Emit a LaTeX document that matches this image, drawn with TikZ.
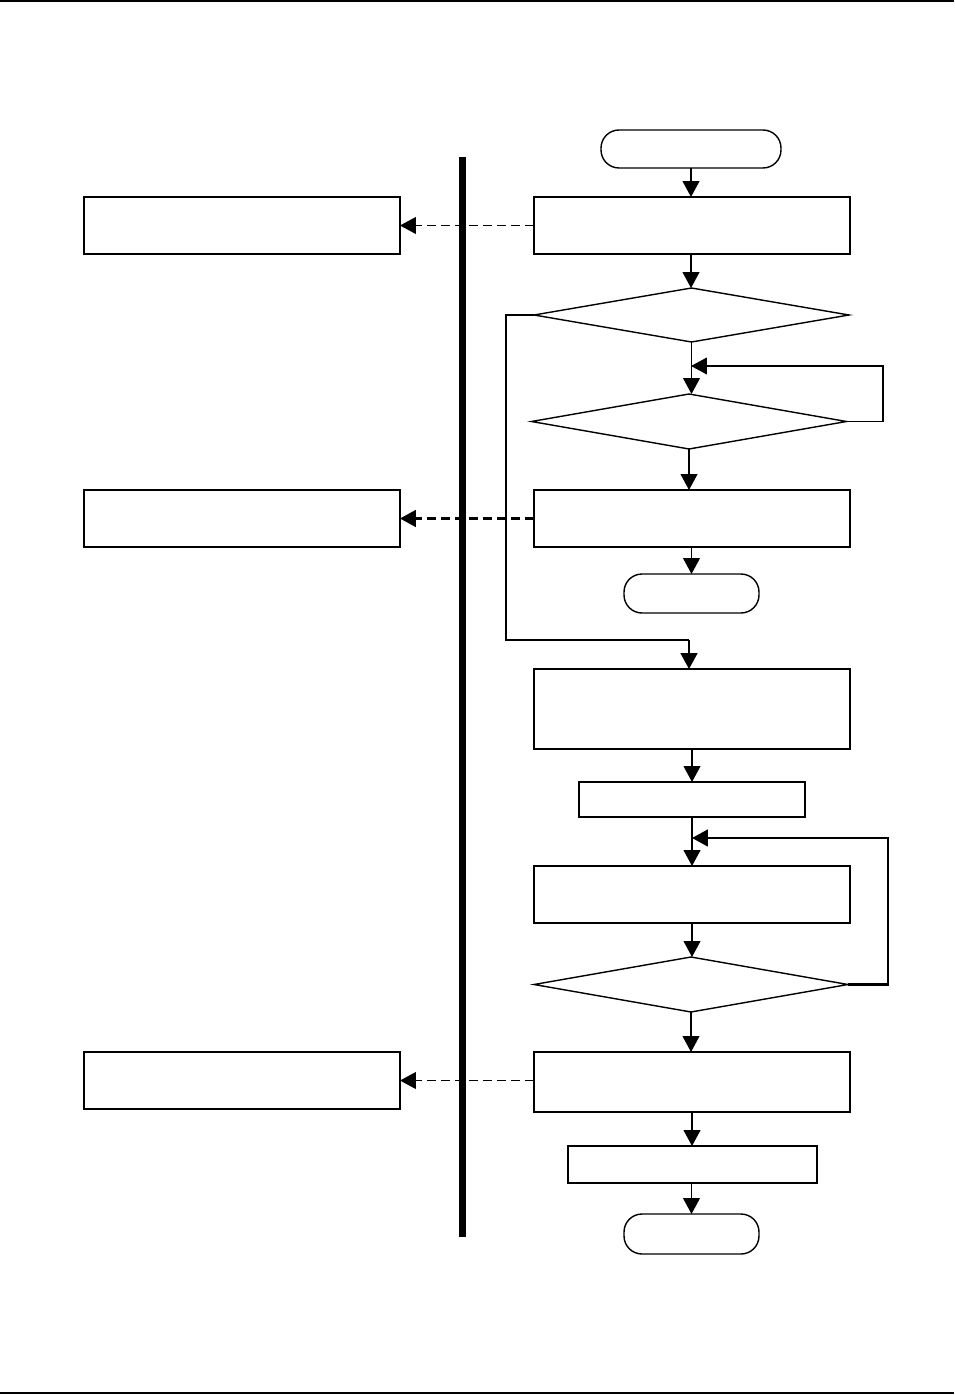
\documentclass[tikz,border=0pt]{standalone}
\usetikzlibrary{arrows.meta,shapes.geometric}
\begin{document}
\begin{tikzpicture}[x=0.02cm,y=-0.02cm,
  box/.style={draw,line width=0.8pt,rectangle,inner sep=0pt,outer sep=0pt},
  boldbox/.style={box,line width=1.2pt},
  term/.style={draw,line width=0.8pt,rectangle,rounded corners=0.36cm,inner sep=0pt,outer sep=0pt},
  dec/.style={draw,line width=0.8pt,diamond,inner sep=0pt,outer sep=0pt},
  arr/.style={line width=0.8pt,-{Triangle[length=9pt,width=9.5pt]}},
  barr/.style={arr,line width=1.2pt},
  darr/.style={line width=0.8pt,dash pattern=on 5pt off 3pt,-{Triangle[length=9pt,width=9.5pt]}},
  bdarr/.style={darr,line width=1.2pt}]
\useasboundingbox (0,0) rectangle (954,1395);
% page rules
\coordinate (tl) at (0,1); \coordinate (tr) at (954,1);
\coordinate (bl) at (0,1393); \coordinate (br) at (954,1393);
\draw[line width=0.8pt] (tl) -- (tr);
\draw[line width=1.2pt] (bl) -- (br);
% nodes
\node[term,minimum width=3.6cm,minimum height=0.76cm] (start) at (691,149) {};
\node[box,minimum width=6.32cm,minimum height=1.14cm] (A) at (692,225.5) {};
\node[box,minimum width=6.32cm,minimum height=1.14cm] (L1) at (242,225.5) {};
\node[dec,minimum width=6.3cm,minimum height=1.08cm] (D1) at (691.5,315) {};
\node[dec,minimum width=6.3cm,minimum height=1.1cm] (D2) at (689,421.5) {};
\node[boldbox,minimum width=6.32cm,minimum height=1.14cm] (B) at (692,518.5) {};
\node[boldbox,minimum width=6.32cm,minimum height=1.14cm] (L2) at (242,518.5) {};
\node[term,minimum width=2.7cm,minimum height=0.78cm] (end1) at (691.5,593.5) {};
\node[box,minimum width=6.32cm,minimum height=1.6cm] (C) at (692,709) {};
\node[box,minimum width=4.52cm,minimum height=0.7cm] (S1) at (692,799.5) {};
\node[box,minimum width=6.32cm,minimum height=1.14cm] (E) at (692,894.5) {};
\node[dec,minimum width=6.28cm,minimum height=1.1cm] (D3) at (691,984.5) {};
\node[box,minimum width=6.32cm,minimum height=1.2cm] (F) at (692,1082) {};
\node[box,minimum width=6.32cm,minimum height=1.14cm] (L3) at (242,1080.5) {};
\node[boldbox,minimum width=4.98cm,minimum height=0.74cm] (S2) at (692.5,1164.5) {};
\node[term,minimum width=2.7cm,minimum height=0.8cm] (end2) at (691.5,1234) {};
% bend coordinates
\coordinate (k1) at (506,315);
\coordinate (k2) at (506,640);
\coordinate (k3) at (689,640);
\coordinate (k4) at (883,421.5);
\coordinate (fb1) at (691,366);
\coordinate (k5) at (888,984.5);
\coordinate (fb2) at (692,838);
% main flow
\draw[arr] (start.south) -- (start.south |- A.north);
\draw[arr] (A.south -| start.south) -- (start.south |- D1.north);
\draw[arr] (D1.south) -- (D1.south |- D2.north);
\draw[arr] (D2.south) -- (D2.south |- B.north);
\draw[arr] (B.south -| end1.north) -- (end1.north);
\draw[line width=0.8pt] (D1.west) -- (k1) -- (k2) -- (k3);
\draw[barr] (k3) -- (k3 |- C.north);
\draw[arr] (C.south) -- (S1.north);
\draw[arr] (S1.south) -- (E.north);
\draw[arr] (E.south) -- (E.south |- D3.north);
\draw[arr] (D3.south) -- (D3.south |- F.north);
\draw[arr] (F.south) -- (F.south |- S2.north);
\draw[arr] (S2.south -| end2.north) -- (end2.north);
% loops
\draw[arr] (D2.east) -- (k4) |- (fb1);
\draw[barr] (D3.east) -- (k5) |- (fb2);
% dashed links
\draw[darr] (A.west) -- (L1.east);
\draw[bdarr] (B.west) -- (L2.east);
\draw[darr] (F.west |- L3.east) -- (L3.east);
% thick divider
\coordinate (bartop) at (462.5,157);
\coordinate (barbot) at (462.5,1237);
\draw[line width=4pt] (bartop) -- (barbot);
\end{tikzpicture}
\end{document}
